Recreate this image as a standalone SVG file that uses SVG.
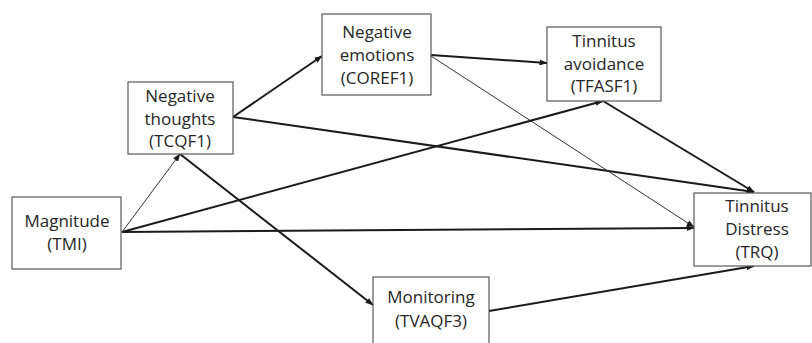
<svg xmlns="http://www.w3.org/2000/svg" width="812" height="343" viewBox="0 0 812 343">
  <style>
    .box { fill: #ffffff; stroke: #595959; stroke-width: 1.2; }
    .lbl { font-family: "Open Sans", "Liberation Sans", sans-serif; font-size: 17px; fill: #262626; text-anchor: middle; }
    .thick { stroke: #1a1a1a; stroke-width: 2; fill: none; marker-end: url(#arrow); }
    .thin { stroke: #333333; stroke-width: 1; fill: none; marker-end: url(#arrow); }
  </style>
  <defs>
    <marker id="arrow" markerUnits="userSpaceOnUse" markerWidth="8" markerHeight="6" refX="7.5" refY="3" orient="auto">
      <path d="M0,0 L8,3 L0,6 Z" fill="#1a1a1a"/>
    </marker>
  </defs>
  <rect width="812" height="343" fill="#ffffff"/>

  <g id="connectors">
    <line class="thick" x1="233" y1="117" x2="322" y2="56"/>
    <line class="thick" x1="233" y1="117" x2="754" y2="192"/>
    <line class="thick" x1="431" y1="55" x2="547" y2="63"/>
    <line class="thin" x1="431" y1="56" x2="694" y2="227"/>
    <line class="thick" x1="603" y1="101" x2="754" y2="192"/>
    <line class="thin" x1="122" y1="232" x2="180" y2="154"/>
    <line class="thick" x1="122" y1="232" x2="603" y2="101"/>
    <line class="thick" x1="122" y1="232" x2="694" y2="228"/>
    <line class="thick" x1="180" y1="154" x2="373" y2="305"/>
    <line class="thick" x1="489" y1="311" x2="754" y2="266"/>
  </g>

  <g id="negative-thoughts">
    <rect class="box" x="128" y="82" width="105" height="72"/>
    <text class="lbl" x="180" y="102">Negative</text>
    <text class="lbl" x="180" y="124.5">thoughts</text>
    <text class="lbl" x="180" y="147">(TCQF1)</text>
  </g>

  <g id="negative-emotions">
    <rect class="box" x="322" y="14" width="109" height="81"/>
    <text class="lbl" x="377" y="38">Negative</text>
    <text class="lbl" x="377" y="61">emotions</text>
    <text class="lbl" x="377" y="84">(COREF1)</text>
  </g>

  <g id="tinnitus-avoidance">
    <rect class="box" x="547" y="27" width="114" height="74"/>
    <text class="lbl" x="604" y="47">Tinnitus</text>
    <text class="lbl" x="604" y="70">avoidance</text>
    <text class="lbl" x="604" y="92">(TFASF1)</text>
  </g>

  <g id="magnitude">
    <rect class="box" x="12" y="197" width="109" height="72"/>
    <text class="lbl" x="67" y="227">Magnitude</text>
    <text class="lbl" x="67" y="250">(TMI)</text>
  </g>

  <g id="tinnitus-distress">
    <rect class="box" x="694" y="193" width="117" height="73"/>
    <text class="lbl" x="757" y="212">Tinnitus</text>
    <text class="lbl" x="757" y="235">Distress</text>
    <text class="lbl" x="757" y="258">(TRQ)</text>
  </g>

  <g id="monitoring">
    <rect class="box" x="373" y="277" width="116" height="80"/>
    <text class="lbl" x="431" y="303">Monitoring</text>
    <text class="lbl" x="431" y="327">(TVAQF3)</text>
  </g>
</svg>
